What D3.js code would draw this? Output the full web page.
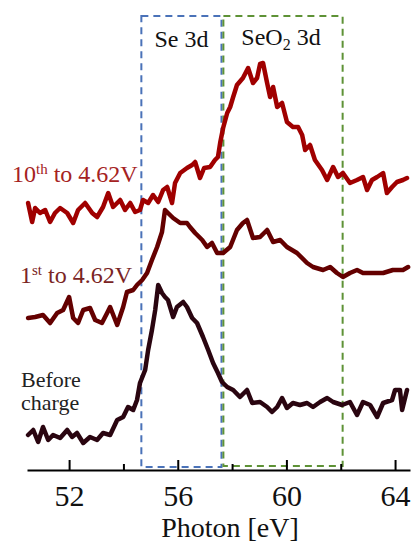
<!DOCTYPE html>
<html>
<head>
<meta charset="utf-8">
<script src="https://cdn.jsdelivr.net/npm/d3@7"></script>
<style>
  html, body { margin: 0; padding: 0; background: #fff; }
  svg { display: block; }
  text { font-family: "Liberation Serif", "Times New Roman", serif; }
</style>
</head>
<body>
<svg id="chart" width="412" height="543"></svg>
<script>
// ---- Data (photon energy in eV, intensity in arbitrary units) ----
const seriesNames = ["10th to 4.62V", "1st to 4.62V", "Before charge"];

const tenthEnergy = [50.49,50.64,50.75,50.93,51.12,51.30,51.48,51.67,51.93,52.15,52.33,52.59,52.85,53.03,53.25,53.44,53.62,53.88,54.06,54.25,54.43,54.61,54.72,54.91,55.09,55.28,55.46,55.61,55.79,55.90,56.09,56.34,56.53,56.64,56.82,56.97,57.19,57.37,57.48,57.56,57.67,57.82,57.93,58.04,58.18,58.40,58.59,58.77,58.92,59.03,59.14,59.29,59.40,59.51,59.66,59.84,60.02,60.24,60.43,60.58,60.69,60.87,61.05,61.31,61.50,61.72,61.90,62.08,62.34,62.60,62.82,62.97,63.15,63.34,63.56,63.70,63.89,64.07,64.29,64.44];
const tenthIntensity = [26.7,24.8,26.2,25.7,26.0,24.8,25.7,26.2,25.7,24.7,26.0,26.7,25.7,25.3,26.3,27.7,26.3,27.0,26.0,26.7,25.8,26.0,27.0,26.7,27.5,26.8,28.0,28.3,26.7,28.7,29.7,30.2,30.5,30.8,29.2,30.2,30.3,31.0,31.3,32.7,34.2,35.7,36.3,37.3,38.5,39.2,40.2,38.7,39.2,40.6,40.7,38.7,37.3,38.3,36.3,36.7,34.8,34.3,34.3,33.5,32.0,32.5,31.0,30.0,29.0,30.3,29.3,29.7,28.7,29.0,29.3,28.0,29.0,29.3,29.7,27.7,28.3,28.8,29.0,29.2];

const firstEnergy = [50.49,50.75,51.04,51.30,51.56,51.78,52.00,52.15,52.33,52.52,52.77,52.96,53.21,53.40,53.51,53.77,53.99,54.13,54.36,54.50,54.69,54.87,55.05,55.24,55.42,55.53,55.64,55.83,56.09,56.34,56.45,56.64,56.90,57.08,57.26,57.45,57.67,57.93,58.18,58.40,58.55,58.77,59.03,59.29,59.51,59.77,60.02,60.39,60.76,60.98,61.35,61.61,61.86,62.08,62.34,62.60,62.82,63.19,63.56,63.92,64.29,64.48];
const firstIntensity = [15.2,15.3,15.5,14.7,15.7,16.0,17.3,15.2,14.7,16.0,16.2,15.0,14.7,15.7,16.3,14.5,16.3,17.8,18.0,18.5,19.0,19.7,21.0,22.3,23.8,26.0,25.7,25.2,24.7,24.7,24.3,23.7,23.0,22.3,22.7,21.7,21.7,22.3,24.0,24.7,25.0,23.2,23.3,24.0,22.8,23.0,22.3,21.7,20.7,20.3,20.0,20.3,19.7,19.3,19.7,20.0,19.7,19.7,19.7,20.0,20.0,20.3];

const beforeEnergy = [50.49,50.68,50.86,51.04,51.23,51.41,51.67,51.93,52.11,52.29,52.52,52.77,53.03,53.25,53.51,53.77,53.99,54.17,54.36,54.50,54.61,54.80,54.91,55.05,55.17,55.28,55.42,55.53,55.64,55.83,55.97,56.20,56.34,56.53,56.71,56.93,57.12,57.30,57.48,57.63,57.82,58.04,58.29,58.55,58.74,59.03,59.29,59.47,59.66,59.84,60.02,60.24,60.50,60.76,60.98,61.24,61.50,61.72,62.05,62.34,62.60,62.82,63.08,63.34,63.56,63.89,64.00,64.18,64.26,64.44];
const beforeIntensity = [3.5,4.0,2.8,4.3,3.0,3.5,3.2,4.0,3.3,3.7,2.7,3.3,3.0,3.7,3.5,5.0,5.3,6.3,6.0,7.0,8.7,10.0,12.0,14.0,16.0,18.5,17.7,17.3,17.0,15.3,16.3,16.8,16.3,15.2,14.7,13.3,12.0,10.7,9.7,8.8,8.3,8.0,7.3,8.0,6.7,6.8,6.3,5.8,6.3,7.2,6.2,6.7,6.5,6.7,6.3,6.8,7.2,6.8,6.5,6.8,5.5,6.8,6.5,5.3,6.7,7.0,8.0,8.0,6.0,8.0];

const regionNames = ["Se 3d", "SeO2 3d"];
const regionStart = [54.66, 57.68];
const regionEnd = [57.61, 62.07];
const regionTop = [45.4, 45.4];
const regionBottom = [0.3, 0.4];

const majorTicks = [52, 56, 60, 64];
const minorTicks = [54, 58, 62];
const xTitle = "Photon [eV]";

// ---- Layout ----
const svg = d3.select("#chart");
const x = d3.scaleLinear().domain([50.45, 64.55]).range([27, 410]);
const y = d3.scaleLinear().domain([0, 45.5]).range([470, 15]);

const seriesColors = ["#a00000", "#640000", "#2a0510"];
const labelColors = ["#a52222", "#7a2424", "#222222"];
const regionColors = ["#4a72b8", "#5e9236"];

// region boxes
regionNames.forEach((name, i) => {
  svg.append("rect")
    .attr("x", x(regionStart[i]))
    .attr("y", y(regionTop[i]))
    .attr("width", x(regionEnd[i]) - x(regionStart[i]))
    .attr("height", y(regionBottom[i]) - y(regionTop[i]))
    .attr("fill", "none")
    .attr("stroke", regionColors[i])
    .attr("stroke-width", 2)
    .attr("stroke-dasharray", "7,5");
});

// lines
const datasets = [
  tenthEnergy.map((e, i) => [e, tenthIntensity[i]]),
  firstEnergy.map((e, i) => [e, firstIntensity[i]]),
  beforeEnergy.map((e, i) => [e, beforeIntensity[i]])
];
const line = d3.line().x(d => x(d[0])).y(d => y(d[1]));
datasets.forEach((d, i) => {
  svg.append("path")
    .datum(d)
    .attr("d", line)
    .attr("fill", "none")
    .attr("stroke", seriesColors[i])
    .attr("stroke-width", 4.5)
    .attr("stroke-linejoin", "round")
    .attr("stroke-linecap", "round");
});

// axis
const axisG = svg.append("g").attr("transform", `translate(0,${y(0)})`);
axisG.call(d3.axisBottom(x).tickValues(majorTicks).tickFormat(d3.format("d"))
  .tickSizeInner(-10).tickSizeOuter(0).tickPadding(15));
axisG.select(".domain").attr("stroke", "#000").attr("stroke-width", 2);
axisG.selectAll(".tick line").attr("stroke", "#000").attr("stroke-width", 2);
axisG.selectAll(".tick text")
  .attr("fill", "#111")
  .style("font-family", '"Liberation Serif", "Times New Roman", serif')
  .style("font-size", "30px");

const minorG = svg.append("g").attr("transform", `translate(0,${y(0)})`);
minorG.call(d3.axisBottom(x).tickValues(minorTicks).tickFormat("")
  .tickSizeInner(-6).tickSizeOuter(0));
minorG.select(".domain").remove();
minorG.selectAll(".tick line").attr("stroke", "#000").attr("stroke-width", 2);

// axis title
svg.append("text")
  .attr("x", 230).attr("y", 537)
  .attr("text-anchor", "middle")
  .attr("fill", "#111")
  .style("font-size", "28px")
  .text(xTitle);

// region labels
svg.append("text")
  .attr("x", (x(regionStart[0]) + x(regionEnd[0])) / 2).attr("y", 47)
  .attr("text-anchor", "middle").attr("fill", "#111")
  .style("font-size", "24px")
  .text("Se 3d");
const r2 = svg.append("text")
  .attr("x", 281).attr("y", 45)
  .attr("text-anchor", "middle").attr("fill", "#111")
  .style("font-size", "24px");
r2.append("tspan").text("SeO");
r2.append("tspan").attr("dy", 5).style("font-size", "16px").text("2");
r2.append("tspan").attr("dy", -5).text(" 3d");

// series labels
const l1 = svg.append("text").attr("x", 12).attr("y", 182)
  .attr("fill", labelColors[0]).style("font-size", "24px");
l1.append("tspan").text("10");
l1.append("tspan").attr("dy", -8).style("font-size", "15px").text("th");
l1.append("tspan").attr("dy", 8).text(" to 4.62V");

const l2 = svg.append("text").attr("x", 20).attr("y", 283)
  .attr("fill", labelColors[1]).style("font-size", "24px");
l2.append("tspan").text("1");
l2.append("tspan").attr("dy", -8).style("font-size", "15px").text("st");
l2.append("tspan").attr("dy", 8).text(" to 4.62V");

const l3 = svg.append("text").attr("fill", labelColors[2]).style("font-size", "22px");
l3.append("tspan").attr("x", 21).attr("y", 387).text("Before");
l3.append("tspan").attr("x", 21).attr("y", 410).text("charge");
</script>
</body>
</html>
